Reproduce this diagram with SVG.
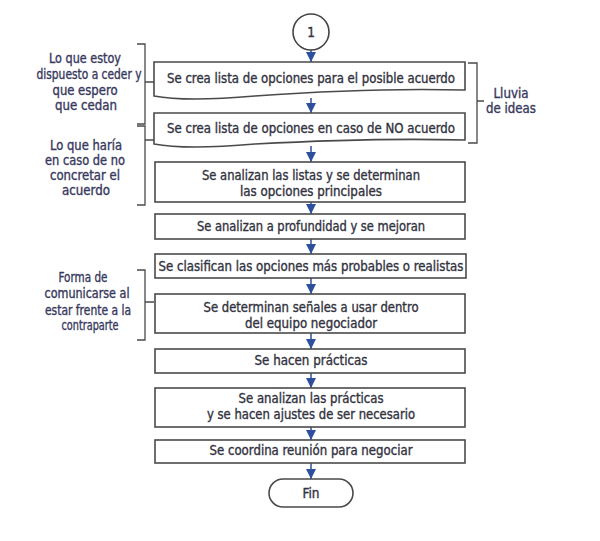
<svg xmlns="http://www.w3.org/2000/svg" width="600" height="541" viewBox="0 0 600 541">
<defs>
<style>
.box{fill:#fff;stroke:#4a4a4a;stroke-width:1.6}
.t{font-family:"Liberation Sans Narrow","DejaVu Sans Condensed","Liberation Sans",sans-serif;font-size:13.5px;fill:#33333f;stroke:#33333f;stroke-width:0.35;text-anchor:middle}
.lbl{font-family:"Liberation Sans Narrow","DejaVu Sans Condensed","Liberation Sans",sans-serif;font-size:13.5px;fill:#38395e;stroke:#38395e;stroke-width:0.35;text-anchor:middle}
.br{fill:none;stroke:#4a4a4a;stroke-width:1.3}
.ln{fill:none;stroke:#2e4f9e;stroke-width:1.5}
</style>
<marker id="ah" markerWidth="11" markerHeight="10" refX="10" refY="5" orient="auto" markerUnits="userSpaceOnUse">
<path d="M0,0 L10,5 L0,10 Z" fill="#2e4f9e"/>
</marker>
</defs>
<rect width="600" height="541" fill="#fff"/>

<g id="connectors">
<line class="ln" x1="311" y1="50" x2="311" y2="62" marker-end="url(#ah)"/>
<line class="ln" x1="311" y1="98" x2="311" y2="113" marker-end="url(#ah)"/>
<line class="ln" x1="311" y1="146" x2="311" y2="162" marker-end="url(#ah)"/>
<line class="ln" x1="311" y1="202" x2="311" y2="214" marker-end="url(#ah)"/>
<line class="ln" x1="311" y1="239" x2="311" y2="254" marker-end="url(#ah)"/>
<line class="ln" x1="311" y1="278" x2="311" y2="294" marker-end="url(#ah)"/>
<line class="ln" x1="311" y1="333" x2="311" y2="349" marker-end="url(#ah)"/>
<line class="ln" x1="311" y1="373" x2="311" y2="388" marker-end="url(#ah)"/>
<line class="ln" x1="311" y1="427" x2="311" y2="440" marker-end="url(#ah)"/>
<line class="ln" x1="311" y1="463" x2="311" y2="479" marker-end="url(#ah)"/>
</g>

<g id="start">
<circle cx="311" cy="32" r="18" fill="#fff" stroke="#444" stroke-width="1.6"/>
<text class="t" x="311" y="37">1</text>
</g>

<g id="n1">
<path class="box" d="M154,62 H465 V90 C390,88 310,92 255,96 C210,100 175,100 154,96 Z"/>
<text class="t" x="311" y="83" textLength="288" lengthAdjust="spacingAndGlyphs">Se crea lista de opciones para el posible acuerdo</text>
</g>
<g id="n2">
<path class="box" d="M154,113 H465 V140 C390,138 310,141 255,144 C210,148 175,148 154,144 Z"/>
<text class="t" x="311" y="133" textLength="288" lengthAdjust="spacingAndGlyphs">Se crea lista de opciones en caso de NO acuerdo</text>
</g>
<g id="n3">
<rect class="box" x="155" y="162" width="310" height="40"/>
<text class="t" x="311" y="180" textLength="218" lengthAdjust="spacingAndGlyphs">Se analizan las listas y se determinan</text>
<text class="t" x="311" y="196" textLength="142" lengthAdjust="spacingAndGlyphs">las opciones principales</text>
</g>
<g id="n4">
<rect class="box" x="155" y="214" width="310" height="25"/>
<text class="t" x="311" y="231" textLength="228" lengthAdjust="spacingAndGlyphs">Se analizan a profundidad y se mejoran</text>
</g>
<g id="n5">
<rect class="box" x="155" y="254" width="311" height="24"/>
<text class="t" x="311" y="271" textLength="305" lengthAdjust="spacingAndGlyphs">Se clasifican las opciones más probables o realistas</text>
</g>
<g id="n6">
<rect class="box" x="155" y="294" width="310" height="39"/>
<text class="t" x="311" y="312" textLength="215" lengthAdjust="spacingAndGlyphs">Se determinan señales a usar dentro</text>
<text class="t" x="311" y="328" textLength="132" lengthAdjust="spacingAndGlyphs">del equipo negociador</text>
</g>
<g id="n7">
<rect class="box" x="155" y="349" width="310" height="24"/>
<text class="t" x="311" y="365" textLength="113" lengthAdjust="spacingAndGlyphs">Se hacen prácticas</text>
</g>
<g id="n8">
<rect class="box" x="155" y="388" width="310" height="39"/>
<text class="t" x="311" y="403" textLength="145" lengthAdjust="spacingAndGlyphs">Se analizan las prácticas</text>
<text class="t" x="311" y="419" textLength="208" lengthAdjust="spacingAndGlyphs">y se hacen ajustes de ser necesario</text>
</g>
<g id="n9">
<rect class="box" x="155" y="440" width="310" height="23"/>
<text class="t" x="311" y="455" textLength="203" lengthAdjust="spacingAndGlyphs">Se coordina reunión para negociar</text>
</g>
<g id="end">
<rect class="box" x="269" y="479" width="84" height="28" rx="14" ry="14"/>
<text class="t" x="311" y="498">Fin</text>
</g>

<g id="brace-left-1">
<path class="br" d="M137,44 H145 V124 H137 M145,82 H154"/>
<text class="lbl" x="85" y="63" textLength="72" lengthAdjust="spacingAndGlyphs">Lo que estoy</text>
<text class="lbl" x="89" y="79" textLength="105" lengthAdjust="spacingAndGlyphs">dispuesto a ceder y</text>
<text class="lbl" x="85" y="95" textLength="65" lengthAdjust="spacingAndGlyphs">que espero</text>
<text class="lbl" x="86" y="110" textLength="62" lengthAdjust="spacingAndGlyphs">que cedan</text>
</g>
<g id="brace-left-2">
<path class="br" d="M137,126 H145 V205 H137 M145,140 H154"/>
<text class="lbl" x="86" y="150" textLength="72" lengthAdjust="spacingAndGlyphs">Lo que haría</text>
<text class="lbl" x="85" y="165" textLength="80" lengthAdjust="spacingAndGlyphs">en caso de no</text>
<text class="lbl" x="85" y="180" textLength="70" lengthAdjust="spacingAndGlyphs">concretar el</text>
<text class="lbl" x="86" y="195" textLength="48" lengthAdjust="spacingAndGlyphs">acuerdo</text>
</g>
<g id="brace-left-3">
<path class="br" d="M137,270 H145 V340 H137 M145,302 H154"/>
<text class="lbl" x="83" y="282" textLength="49" lengthAdjust="spacingAndGlyphs">Forma de</text>
<text class="lbl" x="87" y="298" textLength="85" lengthAdjust="spacingAndGlyphs">comunicarse al</text>
<text class="lbl" x="88" y="315" textLength="86" lengthAdjust="spacingAndGlyphs">estar frente a la</text>
<text class="lbl" x="90" y="330" textLength="57" lengthAdjust="spacingAndGlyphs">contraparte</text>
</g>
<g id="brace-right">
<path class="br" d="M468,63 H477 V143 H468 M477,101 H484"/>
<text class="lbl" x="511" y="98" textLength="35" lengthAdjust="spacingAndGlyphs">Lluvia</text>
<text class="lbl" x="511" y="113" textLength="50" lengthAdjust="spacingAndGlyphs">de ideas</text>
</g>
</svg>
